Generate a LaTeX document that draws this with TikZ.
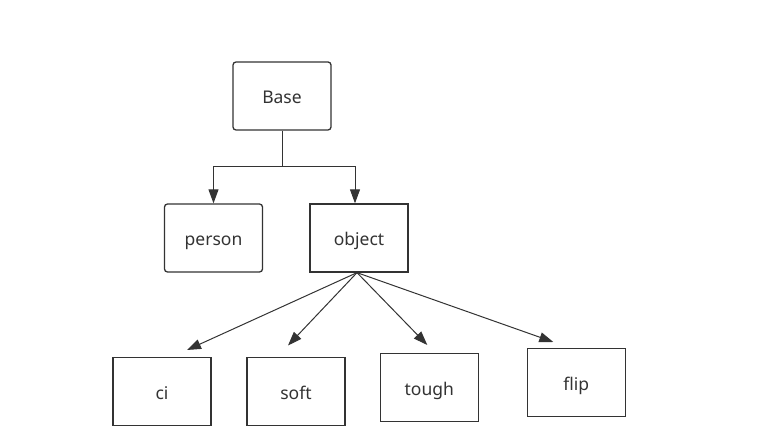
\documentclass[tikz,border=0pt]{standalone}
\usepackage{fontspec}
\setmainfont{Noto Sans}
\usetikzlibrary{arrows.meta}
\definecolor{ink}{HTML}{333333}
\begin{document}
\begin{tikzpicture}[x=1pt,y=-1pt,
  box/.style={draw=ink,line width=1.3pt,minimum width=98pt,minimum height=68pt,inner sep=0pt,
    text height=16pt,text depth=0pt,text=ink,font=\fontsize{17.5}{20}\selectfont},
  rbox/.style={box,rounded corners=3pt},
  conn/.style={draw=ink,line width=1pt,-{Triangle[length=14pt,width=10pt]}}]
\useasboundingbox (0,0) rectangle (773,446);
\node[rbox] (base) at (282,96) {Base};
\node[rbox] (person) at (213.5,238) {person};
\node[box] (object) at (359,238) {object};
\node[box] (ci) at (162,391.3) {ci};
\node[box] (soft) at (296,391.3) {soft};
\node[box] (tough) at (429.3,387.2) {tough};
\node[box] (flip) at (576.3,382.8) {flip};
\coordinate (j) at (282,167);
\coordinate (tci) at (187,350);
\coordinate (tsoft) at (288,345.5);
\coordinate (ttough) at (427.3,345);
\coordinate (tflip) at (553.3,342);
\draw[draw=ink,line width=1pt] (base.south) -- (j);
\draw[conn] (j) -| (person.north);
\draw[conn] (j) -| ([xshift=-4pt]object.north);
\draw[conn] ([xshift=-2pt]object.south) -- (tci);
\draw[conn] ([xshift=-2pt]object.south) -- (tsoft);
\draw[conn] ([xshift=-2pt]object.south) -- (ttough);
\draw[conn] ([xshift=-2pt]object.south) -- (tflip);
\end{tikzpicture}
\end{document}
